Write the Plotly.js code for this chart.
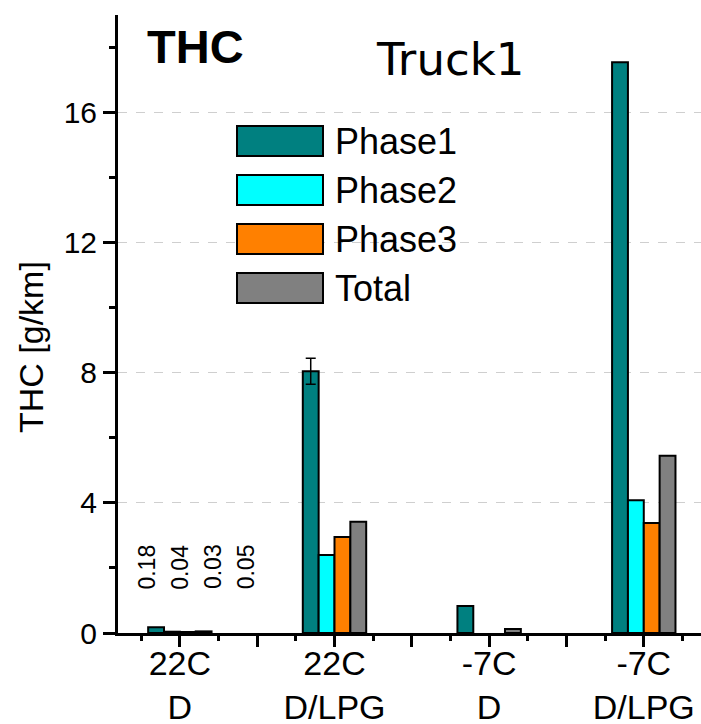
<!DOCTYPE html>
<html><head><meta charset="utf-8">
<script src="https://cdn.plot.ly/plotly-3.0.1.min.js"></script>
<style>html,body{margin:0;padding:0;background:#fff}</style>
</head><body>
<div id="chart" style="width:701px;height:724px"></div>
<script>
// ---- data ----
const categories = ['22C<br>D', '22C<br>D/LPG', '-7C<br>D', '-7C<br>D/LPG'];
const categoryPos = [1, 3, 5, 7];
const seriesNames = ['Phase1', 'Phase2', 'Phase3', 'Total'];
const phase1 = [0.18, 8.05, 0.83, 17.55];
const phase2 = [0.04, 2.40, null, 4.08];
const phase3 = [0.03, 2.95, null, 3.38];
const total  = [0.05, 3.42, 0.12, 5.45];
const phase1Err = [NaN, 0.40, NaN, NaN];
const yTickVals = [0, 4, 8, 12, 16];
const titleText = 'Truck1';
const pollutant = 'THC';
const yTitle = 'THC [g/km]';

// ---- style ----
const colors = ['#008080', '#00FFFF', '#FF8000', '#808080'];
const FONT = 'Liberation Sans, Arial, sans-serif';
const W = 701, H = 724, L = 118, R = 0, T = 15, B = 91;
const pw = W - L - R, ph = H - T - B;
const px = p => (p - L) / pw;
const py = p => (H - B - p) / ph;

const seriesVals = [phase1, phase2, phase3, total];
const traces = seriesVals.map((vals, i) => {
  const t = {
    type: 'bar', name: seriesNames[i], x: categoryPos, y: vals,
    marker: {color: colors[i], line: {color: '#000', width: 2}},
    showlegend: false, hoverinfo: 'x+y'
  };
  if (i === 0) {
    t.error_y = {type: 'data', array: phase1Err, visible: true, color: '#000', thickness: 1.5, width: 5};
  }
  return t;
});

// tick labels on every integer (major), text only at categories
const majorVals = [], majorText = [];
for (let v = 1; v <= 7; v++) {
  majorVals.push(v);
  const k = categoryPos.indexOf(v);
  majorText.push(k >= 0 ? categories[k] : '');
}

const shapes = [];
const annotations = [];
// white legend background (covers gridlines)
shapes.push({type: 'rect', xref: 'paper', yref: 'paper', x0: px(224), x1: px(484), y0: py(318), y1: py(100),
  fillcolor: '#fff', line: {width: 0}, layer: 'between'});
const rowCenters = [141, 190, 239, 288];
seriesNames.forEach((n, i) => {
  const c = rowCenters[i];
  shapes.push({type: 'rect', xref: 'paper', yref: 'paper', x0: px(237), x1: px(323), y0: py(c + 15), y1: py(c - 15),
    fillcolor: colors[i], line: {color: '#000', width: 2}, layer: 'above'});
  annotations.push({xref: 'paper', yref: 'paper', x: px(333), y: py(c), xanchor: 'left', yanchor: 'middle',
    text: n, showarrow: false, font: {family: FONT, size: 36, color: '#000'}});
});
// small value labels for 22C D group
seriesVals.forEach((vals, i) => {
  annotations.push({xref: 'x', yref: 'y', x: categoryPos[0] + (i - 1) * 0.43, y: 2.03, text: vals[0].toFixed(2),
    textangle: -90, showarrow: false, xanchor: 'center', yanchor: 'middle',
    font: {family: FONT, size: 23, color: '#000'}});
});
annotations.push({xref: 'paper', yref: 'paper', x: px(195), y: py(46), text: '<b>' + pollutant + '</b>',
  showarrow: false, xanchor: 'center', yanchor: 'middle', font: {family: FONT, size: 47, color: '#000'}});
annotations.push({xref: 'paper', yref: 'paper', x: px(450), y: py(60), text: titleText,
  showarrow: false, xanchor: 'center', yanchor: 'middle', font: {family: 'DejaVu Sans, sans-serif', size: 45, color: '#000'}});
annotations.push({xref: 'paper', yref: 'paper', x: px(31), y: py(347), text: yTitle, textangle: -90,
  showarrow: false, xanchor: 'center', yanchor: 'middle', font: {family: FONT, size: 34, color: '#000'}});

const layout = {
  width: W, height: H,
  margin: {l: L, r: R, t: T, b: B, pad: 0, autoexpand: false},
  paper_bgcolor: '#fff', plot_bgcolor: '#fff',
  barmode: 'group', bargap: 0.59, bargroupgap: 0,
  font: {family: FONT, color: '#000'},
  xaxis: {
    range: [0.2, 7.74], tickmode: 'array', tickvals: majorVals, ticktext: majorText,
    ticks: 'outside', ticklen: 11, tickwidth: 3, tickcolor: '#000', ticklabelstandoff: -13,
    minor: {tick0: 0.5, dtick: 0.5, ticks: 'outside', ticklen: 5, tickwidth: 3, tickcolor: '#000', showgrid: false},
    showline: true, linewidth: 3, linecolor: '#000', showgrid: false, zeroline: false,
    tickfont: {family: FONT, size: 34, color: '#000'}, fixedrange: true
  },
  yaxis: {
    range: [0, 19], tickmode: 'array', tickvals: yTickVals,
    ticks: 'outside', ticklen: 12, tickwidth: 3, tickcolor: '#000',
    minor: {tick0: 0, dtick: 2, ticks: 'outside', ticklen: 6, tickwidth: 3, tickcolor: '#000', showgrid: false},
    showline: true, linewidth: 3, linecolor: '#000',
    showgrid: true, gridcolor: '#cfcfcf', griddash: 'dash', gridwidth: 1, zeroline: false,
    tickfont: {family: FONT, size: 30, color: '#000'},
    fixedrange: true
  },
  shapes: shapes, annotations: annotations
};
Plotly.newPlot('chart', traces, layout, {displayModeBar: false, staticPlot: true});
</script>
</body></html>
